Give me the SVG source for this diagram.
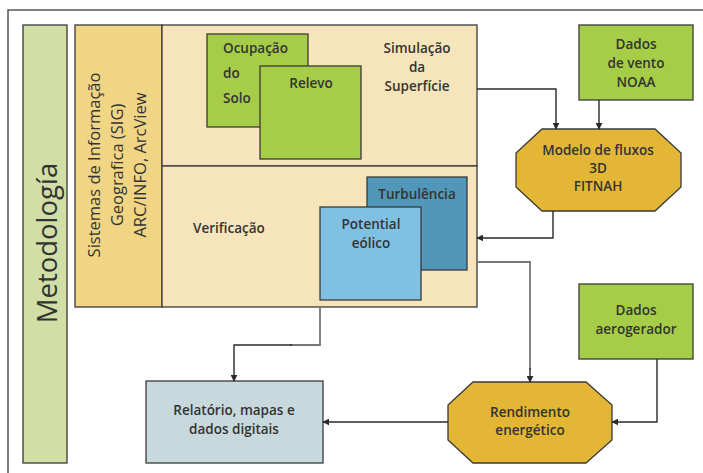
<svg xmlns="http://www.w3.org/2000/svg" width="703" height="473" viewBox="0 0 703 473">
<style>
.t{font-family:"Open Sans","Noto Sans",sans-serif;font-weight:600;font-size:13.5px;fill:#333;}
.c{text-anchor:middle;}
.box{stroke:#3a3a3a;stroke-width:1.3;}
.ln{fill:none;stroke:#2a2a2a;stroke-width:1.4;}
.lg{fill:none;stroke:#777;stroke-width:1.8;}
</style>
<defs>
<marker id="ah" viewBox="0 0 10 10" refX="9" refY="5" markerWidth="7" markerHeight="7" orient="auto" markerUnits="userSpaceOnUse">
<path d="M0,0 L10,5 L0,10 z" fill="#2a2a2a"/>
</marker>
</defs>
<rect width="703" height="473" fill="#fff"/>
<path d="M8,473 V10 H703" fill="none" stroke="#555" stroke-width="1.5"/>

<g id="metodologia">
<rect class="box" x="23" y="25" width="44" height="438" fill="#d1dea6"/>
<text class="t c" transform="translate(57,243) rotate(-90)" style="font-size:27.5px;font-weight:500">Metodología</text>
</g>

<g id="sig">
<rect class="box" x="75" y="25" width="87" height="282" fill="#f0d585"/>
<text class="t c" transform="translate(100,165) rotate(-90)" style="font-size:16.5px;font-weight:500">Sistemas de Informação</text>
<text class="t c" transform="translate(123,165) rotate(-90)" style="font-size:16.5px;font-weight:500">Geografica (SIG)</text>
<text class="t c" transform="translate(146,165) rotate(-90)" style="font-size:16.5px;font-weight:500">ARC/INFO, ArcView</text>
</g>

<g id="simulacao">
<rect class="box" x="162" y="25" width="315" height="141" fill="#f6e5bb"/>
<text class="t c" x="417" y="53">Simulação</text>
<text class="t c" x="417" y="72">da</text>
<text class="t c" x="417" y="91">Superfície</text>
</g>

<g id="verificacao">
<rect class="box" x="162" y="166" width="315" height="141" fill="#f6e5bb"/>
<text class="t" x="193" y="233">Verificação</text>
</g>

<g id="ocupacao">
<rect class="box" x="207" y="34" width="101" height="93" fill="#a5cd48"/>
<text class="t" x="223" y="53">Ocupação</text>
<text class="t" x="223" y="78">do</text>
<text class="t" x="223" y="103">Solo</text>
</g>

<g id="relevo">
<rect class="box" x="260" y="66" width="101" height="93" fill="#a5cd48"/>
<text class="t c" x="311" y="88">Relevo</text>
</g>

<g id="turbulencia">
<rect class="box" x="367" y="177" width="100" height="93" fill="#5197b9"/>
<text class="t c" x="417" y="199">Turbulência</text>
</g>

<g id="potential">
<rect class="box" x="320" y="207" width="101" height="93" fill="#80c0e3"/>
<text class="t c" x="371" y="229">Potential</text>
<text class="t c" x="371" y="248">eólico</text>
</g>

<g id="vento">
<rect class="box" x="579" y="25" width="114" height="75" fill="#a5cd48"/>
<text class="t c" x="636" y="49">Dados</text>
<text class="t c" x="636" y="68">de vento</text>
<text class="t c" x="636" y="87">NOAA</text>
</g>

<g id="modelo">
<polygon class="box" points="542,129 655,129 681,153 681,187 655,211 542,211 516,187 516,153" fill="#e3b735"/>
<text class="t c" x="598" y="155">Modelo de fluxos</text>
<text class="t c" x="598" y="173">3D</text>
<text class="t c" x="598" y="191">FITNAH</text>
</g>

<g id="aerogerador">
<rect class="box" x="579" y="284" width="114" height="75" fill="#a5cd48"/>
<text class="t c" x="636" y="315">Dados</text>
<text class="t c" x="636" y="334">aerogerador</text>
</g>

<g id="rendimento">
<polygon class="box" points="473,382 586,382 612,405 612,440 586,463 473,463 448,440 448,405" fill="#e3b735"/>
<text class="t c" x="530" y="417">Rendimento</text>
<text class="t c" x="530" y="435">energético</text>
</g>

<g id="relatorio">
<rect class="box" x="146" y="381" width="177" height="82" fill="#c8d9de"/>
<text class="t c" x="234" y="415">Relatório, mapas e</text>
<text class="t c" x="234" y="434">dados digitais</text>
</g>

<g id="connectors">
<path class="ln" d="M477,89 H556 V129" marker-end="url(#ah)"/>
<path class="ln" d="M599,100 V129" marker-end="url(#ah)"/>
<path class="ln" d="M553,211 V238 H477" marker-end="url(#ah)"/>
<path class="lg" d="M477,262 H530 V370"/>
<path class="ln" d="M530,368 V382" marker-end="url(#ah)"/>
<path class="lg" d="M320,307 V345 H290"/>
<path class="ln" d="M292,345 H234 V381" marker-end="url(#ah)"/>
<path class="ln" d="M448,422 H323" marker-end="url(#ah)"/>
<path class="ln" d="M657,359 V422 H612" marker-end="url(#ah)"/>
</g>
</svg>
